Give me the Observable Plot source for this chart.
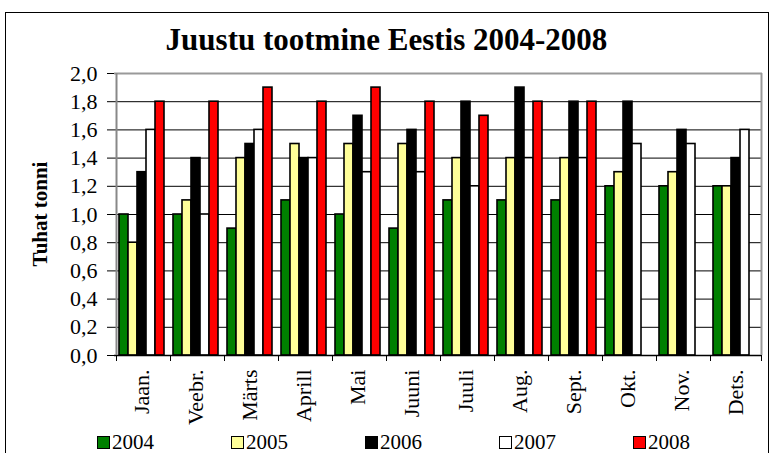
<!DOCTYPE html>
<html>
<head>
<meta charset="utf-8">
<script src="https://cdn.jsdelivr.net/npm/d3@7"></script>
<script src="https://cdn.jsdelivr.net/npm/@observablehq/plot@0.6"></script>
<style>
  body { margin: 0; background: #fff; }
  #wrap { position: relative; width: 773px; height: 453px; overflow: hidden;
          font-family: "Liberation Serif", "Times New Roman", serif; color: #000; }
  #border { position: absolute; left: 5px; top: 12px; width: 764px; height: 480px;
            border: 1px solid #000; box-sizing: border-box; }
  #title { position: absolute; left: 0; top: 23px; width: 773px; text-align: center;
           font-weight: bold; font-size: 31px; line-height: 34px; }
  #ylab { position: absolute; left: 40px; top: 214px; font-weight: bold; font-size: 21px;
          white-space: nowrap; transform: translate(-50%, -50%) rotate(-90deg); }
  #chart { position: absolute; left: 0; top: 0; }
  #chart svg text { font-family: "Liberation Serif", "Times New Roman", serif; }
  #legend { position: absolute; left: 97px; top: 433px; display: flex; font-size: 21px; line-height: 18px; }
  .item { width: 134px; display: flex; align-items: center; }
  .sw { width: 13px; height: 13px; border: 1.5px solid #000; box-sizing: border-box; margin-right: 2px; margin-top: 1px; }
</style>
</head>
<body>
<div id="wrap">
  <div id="border"></div>
  <div id="chart"></div>
  <div id="title">Juustu tootmine Eestis 2004-2008</div>
  <div id="ylab">Tuhat tonni</div>
  <div id="legend"></div>
</div>
<script>
const months = ["Jaan.", "Veebr.", "Märts", "Aprill", "Mai", "Juuni", "Juuli", "Aug.", "Sept.", "Okt.", "Nov.", "Dets."];
const years = ["2004", "2005", "2006", "2007", "2008"];
const v2004 = [1.0, 1.0, 0.9, 1.1, 1.0, 0.9, 1.1, 1.1, 1.1, 1.2, 1.2, 1.2];
const v2005 = [0.8, 1.1, 1.4, 1.5, 1.5, 1.5, 1.4, 1.4, 1.4, 1.3, 1.3, 1.2];
const v2006 = [1.3, 1.4, 1.5, 1.4, 1.7, 1.6, 1.8, 1.9, 1.8, 1.8, 1.6, 1.4];
const v2007 = [1.6, 1.0, 1.6, 1.4, 1.3, 1.3, 1.2, 1.4, 1.4, 1.5, 1.5, 1.6];
const v2008 = [1.8, 1.8, 1.9, 1.8, 1.9, 1.8, 1.7, 1.8, 1.8, null, null, null];
const yTicks = [0, 0.2, 0.4, 0.6, 0.8, 1.0, 1.2, 1.4, 1.6, 1.8, 2.0];
const colors = ["#008000", "#FFFF99", "#000000", "#FFFFFF", "#FF0000"];

const series = [v2004, v2005, v2006, v2007, v2008];
const data = [];
months.forEach((m, i) => series.forEach((s, j) => {
  if (s[i] != null) data.push({month: m, year: years[j], value: s[i]});
}));

const W = 773, H = 430, mL = 108, mR = 6, mT = 73, mB = H - 355;
const padOuter = 0.25;
const step = (W - mL - mR) / months.length / (years.length + 2 * padOuter);
const edge = (0.5 + padOuter) * step;
const fmt = d => d.toFixed(1).replace(".", ",");

const chart = Plot.plot({
  width: W, height: H,
  marginLeft: mL, marginRight: mR, marginTop: mT, marginBottom: mB,
  style: {fontFamily: "'Liberation Serif', 'Times New Roman', serif", fontSize: "22px", color: "#000", background: "transparent"},
  fx: {domain: months, padding: 0, label: null, tickSize: 0, tickRotate: -90, tickPadding: 14},
  x: {domain: years, paddingInner: 0, paddingOuter: padOuter, axis: null},
  y: {domain: [0, 2], ticks: yTicks, tickFormat: () => "", tickSize: 7, label: null},
  color: {domain: years, range: colors},
  marks: [
    Plot.ruleY(yTicks.slice(1, -1), {stroke: "#000", strokeWidth: 1}),
    Plot.ruleY([2], {stroke: "#999", strokeWidth: 2}),
    Plot.barY(data, {fx: "month", x: "year", y: "value", fill: "year", stroke: "#000", strokeWidth: 1.6}),
    Plot.ruleY([0], {stroke: "#000", strokeWidth: 1.5}),
    // y tick labels (first facet only)
    Plot.text(yTicks, {fx: () => months[0], y: d => d, text: fmt, frameAnchor: "left", textAnchor: "end", dx: -17, fill: "#000", fontSize: 22}),
    // left axis line (first facet) and right frame edge (last facet)
    Plot.ruleX([months[0]], {fx: d => d, x: () => years[0], y1: 0, y2: 2, dx: -edge, stroke: "#888", strokeWidth: 2}),
    Plot.ruleX([months[months.length - 1]], {fx: d => d, x: () => years[years.length - 1], y1: 0, y2: 2, dx: edge, stroke: "#999", strokeWidth: 2}),
    // category boundary ticks below the axis
    Plot.ruleX(months, {fx: d => d, x: () => years[0], y1: 0, y2: 0, insetBottom: -6, dx: -edge, stroke: "#000", strokeWidth: 1}),
    Plot.ruleX([months[months.length - 1]], {fx: d => d, x: () => years[years.length - 1], y1: 0, y2: 0, insetBottom: -6, dx: edge, stroke: "#000", strokeWidth: 1})
  ]
});
document.getElementById("chart").appendChild(chart);

const legend = document.getElementById("legend");
years.forEach((y, i) => {
  const it = document.createElement("div");
  it.className = "item";
  const sw = document.createElement("span");
  sw.className = "sw";
  sw.style.background = colors[i];
  const t = document.createElement("span");
  t.textContent = y;
  it.appendChild(sw); it.appendChild(t);
  legend.appendChild(it);
});
</script>
</body>
</html>
